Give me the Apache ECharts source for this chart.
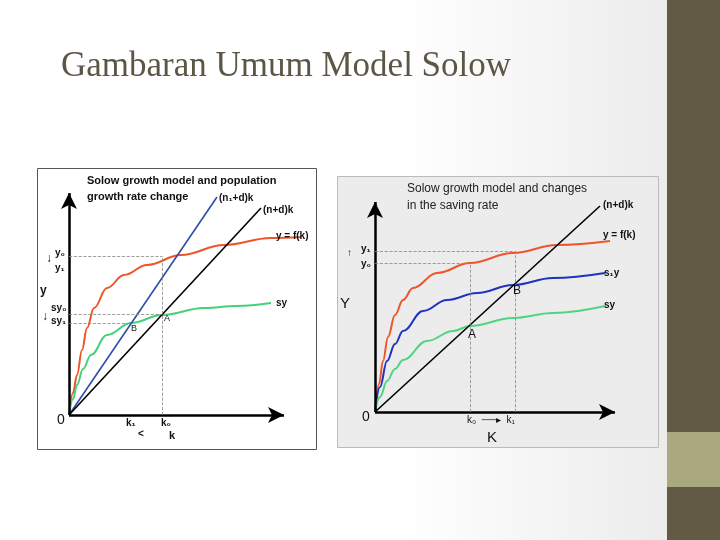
<!DOCTYPE html>
<html><head><meta charset="utf-8">
<script src="https://cdn.jsdelivr.net/npm/echarts@6/dist/echarts.min.js"></script>
<style>html,body{margin:0;padding:0;}#c{width:720px;height:540px;}</style>
</head><body><div id="c"></div>
<script>
// Left panel: population growth change
const leftOutput = [[0,0],[4,22],[8,40],[13,65],[18,87],[25,107],[38,127],[55,140],[78,150],[112,160],[155,170],[202,177],[232,178]];
const leftSaving = [[0,0],[4,16],[8,30],[14,46],[22,60],[38,80],[62,92],[93,100],[135,107],[168,109],[202,112]];
const leftDepN1 = [[0,0],[148,218]];
const leftDepN = [[0,0],[192,207]];
const leftY0 = 159, leftSy0 = 101, leftSy1 = 92, leftK0 = 93, leftK1 = 63;
// Right panel: saving rate change
const rightOutput = [[0,0],[4,28],[8,51],[13,75],[20,97],[28,112],[38,124],[62,139],[95,149],[138,159],[182,167],[235,171]];
const rightS1 = [[0,0],[5,25],[12,51],[20,68],[28,81],[48,101],[72,112],[102,119],[138,127],[178,134],[230,139]];
const rightS0 = [[0,0],[5,15],[12,31],[20,43],[28,52],[52,71],[78,81],[95,86],[138,94],[178,99],[230,106]];
const rightDep = [[0,0],[225,206]];
const rightY1 = 161, rightY0 = 149, rightK0 = 95, rightK1 = 140;

const chart = echarts.init(document.getElementById('c'));
const dash = {color:'#888', type:'dashed', width:0.8};
function axes(xEnd, yEnd){
  return {silent:true, symbol:['none','arrow'], symbolSize:[12,16], label:{show:false},
    lineStyle:{color:'#000', width:2.5, type:'solid'},
    data:[[{coord:[0,0]},{coord:[xEnd,0]}],[{coord:[0,0]},{coord:[0,yEnd]}]]};
}
function guides(list){
  return {silent:true, symbol:'none', label:{show:false}, lineStyle:dash,
    data:list.map(s=>[{coord:s[0]},{coord:s[1]}])};
}
function ln(data, color, xi, extra){
  return Object.assign({type:'line', data, xAxisIndex:xi, yAxisIndex:xi, smooth:0.4, smoothMonotone:'x', showSymbol:false,
    lineStyle:{color, width:2}, z:3}, extra||{});
}
const T = (x,y,text,o)=>Object.assign({type:'text', left:x, top:y, z:10,
  style:Object.assign({text, fill:'#111', font:'bold 10px "Liberation Sans", Arial, sans-serif'}, o||{})});
chart.setOption({
  animation:false,
  grid:[{left:69, top:193, width:240, height:222},{left:375, top:202, width:240, height:210}],
  xAxis:[{type:'value',min:0,max:240,show:false,gridIndex:0},{type:'value',min:0,max:240,show:false,gridIndex:1}],
  yAxis:[{type:'value',min:0,max:222,show:false,gridIndex:0},{type:'value',min:0,max:210,show:false,gridIndex:1}],
  graphic:[
    {type:'rect', shape:{x:0,y:0,width:667,height:540}, z:-10,
      style:{fill:new echarts.graphic.LinearGradient(0,0,1,0,[{offset:0,color:'#ffffff'},{offset:0.6,color:'#ffffff'},{offset:1,color:'#ececec'}])}},
    {type:'rect', shape:{x:667,y:0,width:53,height:540}, z:-10, style:{fill:'#625a45'}},
    {type:'rect', shape:{x:667,y:432,width:53,height:55}, z:-9, style:{fill:'#a9a87e'}},
    {type:'text', left:61, top:49, z:10, style:{text:'Gambaran Umum Model Solow', fill:'#5c5646', font:'35px "Liberation Serif", serif'}},
    {type:'rect', shape:{x:37.5,y:168.5,width:279,height:281}, z:-5, style:{fill:'#fff', stroke:'#555', lineWidth:1}},
    {type:'rect', shape:{x:337.5,y:176.5,width:321,height:271}, z:-5, style:{fill:'#ececec', stroke:'#bbb', lineWidth:1}},
    T(87,173,'Solow growth model and population\ngrowth rate change',{font:'bold 11px "Liberation Sans Narrow", "Liberation Sans", Arial, sans-serif', lineHeight:16}),
    T(219,193,'(n\u2081+d)k'), T(263,205,'(n+d)k'), T(276,231,'y = f(k)'), T(276,298,'sy'),
    T(55,248,'y\u2080'), T(55,263,'y\u2081'), T(46,253,'\u2193',{font:'bold 12px sans-serif'}),
    T(40,285,'y',{font:'bold 12px "Liberation Sans", sans-serif'}),
    T(51,303,'sy\u2080'), T(51,316,'sy\u2081'), T(42,311,'\u2193',{font:'bold 12px sans-serif'}),
    T(131,324,'B',{font:'9px "Liberation Sans", sans-serif'}), T(164,314,'A',{font:'9px "Liberation Sans", sans-serif'}),
    T(57,413,'0',{font:'14px "Liberation Sans", sans-serif'}),
    T(126,418,'k\u2081'), T(138,429,'<'), T(161,418,'k\u2080'), T(169,430,'k',{font:'bold 11px sans-serif'}),
    T(407,180,'Solow growth model and changes\nin the saving rate',{font:'12px "Liberation Sans", Arial, sans-serif', fill:'#222', lineHeight:17}),
    T(603,200,'(n+d)k'), T(603,230,'y = f(k)'), T(604,268,'s\u2081y'), T(604,300,'sy'),
    T(361,244,'y\u2081'), T(361,259,'y\u2080'), T(347,248,'\u2191',{font:'10px sans-serif'}),
    T(340,296,'Y',{font:'15px "Liberation Sans", sans-serif'}),
    T(513,285,'B',{font:'12px "Liberation Sans", sans-serif'}), T(468,329,'A',{font:'12px "Liberation Sans", sans-serif'}),
    T(362,410,'0',{font:'14px "Liberation Sans", sans-serif'}),
    T(467,415,'k\u2080  \u2500\u2500\u25B8  k\u2081',{font:'10px "Liberation Sans", sans-serif'}),
    T(487,430,'K',{font:'15px "Liberation Sans", sans-serif'})
  ],
  series:[
    ln(leftOutput,'#f0542a',0,{markLine:axes(215,222)}),
    ln(leftSaving,'#45d07a',0,{markLine:guides([[[0,leftY0],[leftK0,leftY0]],[[0,leftSy0],[leftK0,leftSy0]],[[0,leftSy1],[leftK1,leftSy1]],[[leftK0,0],[leftK0,leftY0]]])}),
    ln(leftDepN1,'#2a4fa8',0,{smooth:false, lineStyle:{color:'#2a4fa8',width:1.6}}),
    ln(leftDepN,'#000',0,{smooth:false, lineStyle:{color:'#000',width:1.6}}),
    ln(rightOutput,'#f0542a',1,{markLine:axes(240,210)}),
    ln(rightS1,'#1f33c0',1),
    ln(rightS0,'#4fd483',1,{markLine:guides([[[0,rightY1],[rightK1,rightY1]],[[0,rightY0],[rightK0,rightY0]],[[rightK0,0],[rightK0,rightY0]],[[rightK1,0],[rightK1,rightY1]]])}),
    ln(rightDep,'#000',1,{smooth:false, lineStyle:{color:'#000',width:1.6}})
  ]
});
</script></body></html>
